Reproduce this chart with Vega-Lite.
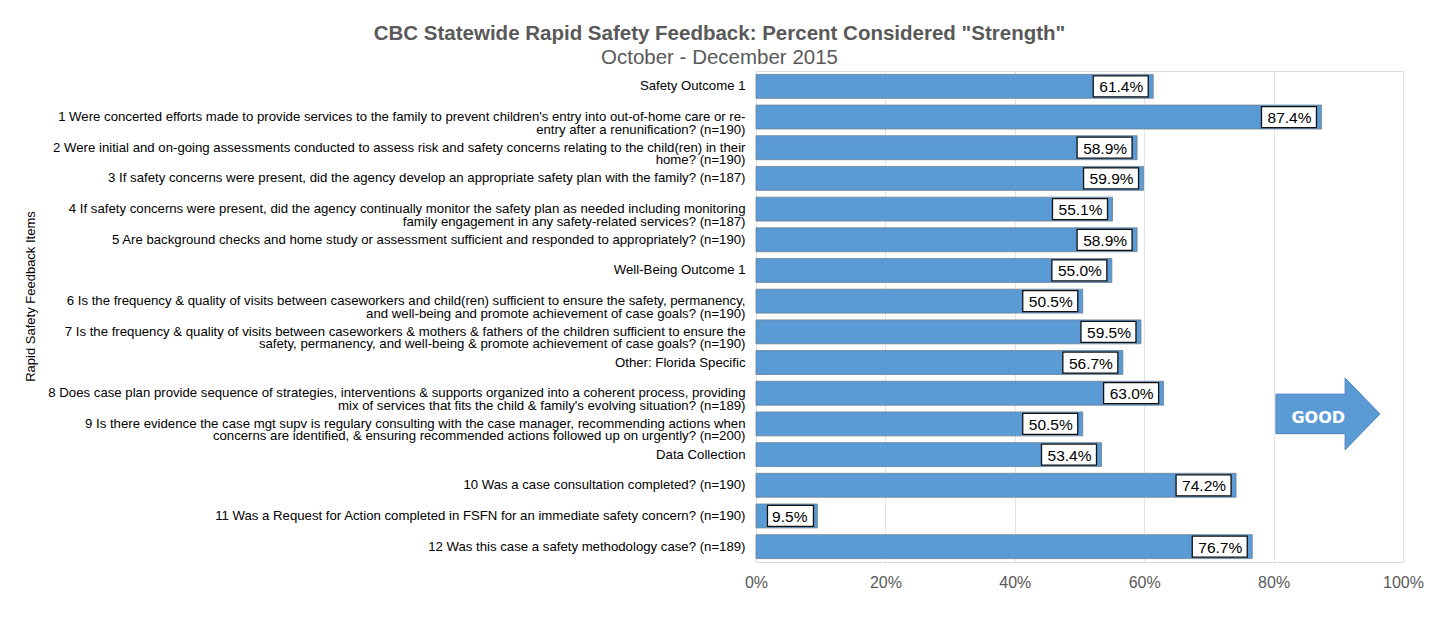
{
  "$schema": "https://vega.github.io/schema/vega-lite/v6.json",
  "autosize": "none",
  "width": 647,
  "height": 491,
  "padding": {"left": 756, "top": 71, "right": 37, "bottom": 63},
  "background": "white",
  "title": {
    "text": "CBC Statewide Rapid Safety Feedback: Percent Considered \"Strength\"",
    "subtitle": "October - December 2015",
    "anchor": "middle",
    "dx": -360,
    "offset": 3,
    "font": "Liberation Sans",
    "fontSize": 20.5,
    "fontWeight": "bold",
    "color": "#595959",
    "subtitleFont": "Liberation Sans",
    "subtitleFontSize": 20.5,
    "subtitleColor": "#595959",
    "subtitlePadding": 3
  },
  "data": {
    "values": [
      {"item": "Safety Outcome 1", "pct": 0.614},
      {"item": "1 Were concerted efforts made to provide services to the family to prevent children's entry into out-of-home care or re-|entry after a renunification? (n=190)", "pct": 0.874},
      {"item": "2 Were initial and on-going assessments conducted to assess risk and safety concerns relating to the child(ren) in their|home? (n=190)", "pct": 0.589},
      {"item": "3 If safety concerns were present, did the agency develop an appropriate safety plan with the family? (n=187)", "pct": 0.599},
      {"item": "4 If safety concerns were present, did the agency continually monitor the safety plan as needed including monitoring|family engagement in any safety-related services? (n=187)", "pct": 0.551},
      {"item": "5 Are background checks and home study or assessment sufficient and responded to appropriately? (n=190)", "pct": 0.589},
      {"item": "Well-Being Outcome 1", "pct": 0.55},
      {"item": "6 Is the frequency & quality of visits between caseworkers and child(ren) sufficient to ensure the safety, permanency,|and well-being and promote achievement of case goals? (n=190)", "pct": 0.505},
      {"item": "7 Is the frequency & quality of visits between caseworkers & mothers & fathers of the children sufficient to ensure the|safety, permanency, and well-being & promote achievement of case goals? (n=190)", "pct": 0.595},
      {"item": "Other: Florida Specific", "pct": 0.567},
      {"item": "8 Does case plan provide sequence of strategies, interventions & supports organized into a coherent process, providing|mix of services that fits the child & family's evolving situation? (n=189)", "pct": 0.63},
      {"item": "9 Is there evidence the case mgt supv is regulary consulting with the case manager, recommending actions when|concerns are identified, & ensuring recommended actions followed up on urgently? (n=200)", "pct": 0.505},
      {"item": "Data Collection", "pct": 0.534},
      {"item": "10 Was a case consultation completed? (n=190)", "pct": 0.742},
      {"item": "11 Was a Request for Action completed in FSFN for an immediate safety concern? (n=190)", "pct": 0.095},
      {"item": "12 Was this case a safety methodology case? (n=189)", "pct": 0.767}
    ]
  },
  "encoding": {
    "y": {
      "field": "item",
      "type": "nominal",
      "sort": null,
      "scale": {"paddingInner": 0.22, "paddingOuter": 0.11},
      "axis": {
        "title": "Rapid Safety Feedback Items",
        "titleFont": "Liberation Sans",
        "titleFontSize": 13,
        "titleFontWeight": "normal",
        "titleColor": "#000000",
        "titleX": -726,
        "titleY": 225,
        "titleAngle": 270,
        "titleAlign": "center",
        "titleBaseline": "middle",
        "labelExpr": "split(datum.label, '|')",
        "labelFont": "Liberation Sans",
        "labelFontSize": 13.2,
        "labelColor": "#000000",
        "labelLineHeight": 12.5,
        "labelPadding": 11,
        "labelLimit": 800,
        "ticks": false,
        "domain": false,
        "grid": false
      }
    }
  },
  "layer": [
    {
      "mark": {"type": "bar", "fill": "#5B9BD5", "stroke": "#6f7f8f", "strokeWidth": 0.8},
      "encoding": {
        "x": {
          "field": "pct",
          "type": "quantitative",
          "scale": {"domain": [0, 1], "nice": false},
          "axis": {
            "title": null,
            "values": [0, 0.2, 0.4, 0.6, 0.8, 1],
            "format": ".0%",
            "labelFont": "Liberation Sans",
            "labelFontSize": 16,
            "labelColor": "#595959",
            "labelPadding": 12,
            "labelFlush": false,
            "ticks": false,
            "domain": false,
            "grid": true,
            "gridColor": "#e3e3e3",
            "gridWidth": 1
          }
        }
      }
    },
    {
      "transform": [{"filter": "datum.pct >= 0.1"}],
      "mark": {"type": "bar", "fill": "white", "stroke": "#111111", "strokeWidth": 1.3, "height": 21, "xOffset": -60, "x2Offset": -5},
      "encoding": {
        "x": {"field": "pct", "type": "quantitative"},
        "x2": {"field": "pct"}
      }
    },
    {
      "transform": [{"filter": "datum.pct < 0.1"}],
      "mark": {"type": "bar", "fill": "white", "stroke": "#111111", "strokeWidth": 1.3, "height": 21, "xOffset": -50, "x2Offset": -4},
      "encoding": {
        "x": {"field": "pct", "type": "quantitative"},
        "x2": {"field": "pct"}
      }
    },
    {
      "mark": {"type": "text", "align": "right", "baseline": "middle", "dx": -10, "dy": 1, "font": "Liberation Sans", "fontSize": 15.5, "color": "#000000"},
      "encoding": {
        "x": {"field": "pct", "type": "quantitative"},
        "text": {"field": "pct", "type": "quantitative", "format": ".1%"}
      }
    },
    {
      "transform": [{"filter": "indexof(datum.item, '9 Is there') == 0"}],
      "mark": {
        "type": "point",
        "shape": "M-1,-0.38L0.33,-0.38L0.33,-0.69L1,0L0.33,0.69L0.33,0.38L-1,0.38Z",
        "size": 10816,
        "filled": true,
        "fill": "#5B9BD5",
        "stroke": "#4a82bd",
        "strokeWidth": 1,
        "opacity": 1,
        "yOffset": -10
      },
      "encoding": {
        "x": {"datum": 0.884}
      }
    },
    {
      "transform": [{"filter": "indexof(datum.item, '9 Is there') == 0"}],
      "mark": {"type": "text", "text": "GOOD", "align": "center", "baseline": "middle", "yOffset": -6, "font": "DejaVu Sans", "fontWeight": "bold", "fontSize": 16, "color": "white"},
      "encoding": {
        "x": {"datum": 0.869}
      }
    }
  ]
}
